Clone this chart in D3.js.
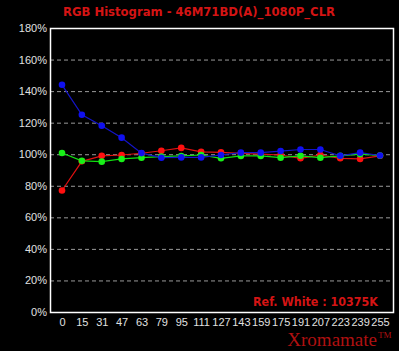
<!DOCTYPE html>
<html>
<head>
<meta charset="utf-8">
<script src="https://cdn.jsdelivr.net/npm/d3@7"></script>
<style>
  body { margin: 0; background: #000; }
  svg { display: block; }
</style>
</head>
<body>
<div id="chart"></div>
<script>
// chart data
var levels = [0, 15, 31, 47, 63, 79, 95, 111, 127, 143, 159, 175, 191, 207, 223, 239, 255];
var redVals = [77, 95.5, 99, 99.5, 100.6, 102.2, 104, 101.5, 101.2, 100.6, 100, 99.5, 97.4, 99.5, 97.4, 97, 99];
var greenVals = [100.8, 95.8, 95.3, 97, 97.8, 98.5, 98.9, 99.5, 97.4, 98.9, 98.9, 97.8, 99, 97.8, 99, 100, 99.2];
var blueVals = [144, 125, 118, 110.5, 100.7, 97.8, 98, 98, 99.5, 101, 101, 102, 103, 103, 99, 101, 99.2];
var yTicks = [0, 20, 40, 60, 80, 100, 120, 140, 160, 180];

(function(d3) {
  'use strict';

  var width = 399;
  var height = 351;
  var left = 50, right = 393, top = 28, bottom = 312;

  var svg = d3.select('#chart')
    .append('svg')
    .attr('width', width)
    .attr('height', height)
    .style('background', '#000');

  var x = d3.scalePoint()
    .domain(levels)
    .range([62, 380]);

  var y = d3.scaleLinear()
    .domain([0, 180])
    .range([bottom, top]);

  // title
  svg.append('text')
    .attr('x', 63)
    .attr('y', 16)
    .attr('textLength', 272)
    .attr('lengthAdjust', 'spacingAndGlyphs')
    .attr('fill', '#d41414')
    .style('font', 'bold 13px "DejaVu Sans", sans-serif')
    .text('RGB Histogram - 46M71BD(A)_1080P_CLR');

  // dashed grid
  svg.append('g')
    .selectAll('line')
    .data(yTicks.filter(function(t) { return t > 0 && t < 180; }))
    .enter()
    .append('line')
    .attr('x1', left)
    .attr('x2', right)
    .attr('y1', function(d) { return y(d) + 0.5; })
    .attr('y2', function(d) { return y(d) + 0.5; })
    .attr('stroke', '#9a9a9a')
    .attr('stroke-dasharray', '4,3');

  // y axis labels
  var yAxis = d3.axisLeft(y)
    .tickValues(yTicks)
    .tickSize(0)
    .tickPadding(3)
    .tickFormat(function(d) { return d + '%'; });

  var gy = svg.append('g')
    .attr('transform', 'translate(' + left + ',0)')
    .call(yAxis);
  gy.select('.domain').remove();
  gy.selectAll('text')
    .attr('fill', '#e0e0e0')
    .style('font', '11px "Liberation Sans", Arial, sans-serif');

  // x axis labels
  var xAxis = d3.axisBottom(x)
    .tickSize(0)
    .tickPadding(6);

  var gx = svg.append('g')
    .attr('transform', 'translate(0,' + bottom + ')')
    .call(xAxis);
  gx.select('.domain').remove();
  gx.selectAll('text')
    .attr('fill', '#e0e0e0')
    .style('font', '11px "Liberation Sans", Arial, sans-serif');

  // frame
  svg.append('rect')
    .attr('x', left + 0.5)
    .attr('y', top + 0.5)
    .attr('width', right - left)
    .attr('height', bottom - top)
    .attr('fill', 'none')
    .attr('stroke', '#fff')
    .attr('stroke-width', 1.5);

  var series = [
    { name: 'red', vals: redVals, line: '#e01010', dot: '#ff1010' },
    { name: 'green', vals: greenVals, line: '#10e010', dot: '#18f018' },
    { name: 'blue', vals: blueVals, line: '#1414c8', dot: '#1010f0' }
  ];

  var line = d3.line()
    .x(function(d, i) { return x(levels[i]); })
    .y(function(d) { return y(d); });

  series.forEach(function(s) {
    svg.append('path')
      .datum(s.vals)
      .attr('d', line)
      .attr('fill', 'none')
      .attr('stroke', s.line)
      .attr('stroke-width', 1.2);
  });

  series.forEach(function(s) {
    svg.append('g')
      .selectAll('circle')
      .data(s.vals)
      .enter()
      .append('circle')
      .attr('cx', function(d, i) { return x(levels[i]); })
      .attr('cy', function(d) { return y(d); })
      .attr('r', 3.3)
      .attr('fill', s.dot);
  });

  // footer texts
  svg.append('text')
    .attr('x', 253)
    .attr('y', 306)
    .attr('textLength', 125)
    .attr('lengthAdjust', 'spacingAndGlyphs')
    .attr('fill', '#d41414')
    .style('font', 'bold 13px "DejaVu Sans", sans-serif')
    .text('Ref. White : 10375K');

  svg.append('text')
    .attr('x', 377)
    .attr('y', 346)
    .attr('text-anchor', 'end')
    .attr('fill', '#b01010')
    .style('font', '19px "Liberation Serif", "Times New Roman", serif')
    .text('Xromamate');

  svg.append('text')
    .attr('x', 378)
    .attr('y', 338)
    .attr('fill', '#b01010')
    .style('font', '9px "Liberation Serif", serif')
    .text('TM');
})(window.d3);
</script>
</body>
</html>
